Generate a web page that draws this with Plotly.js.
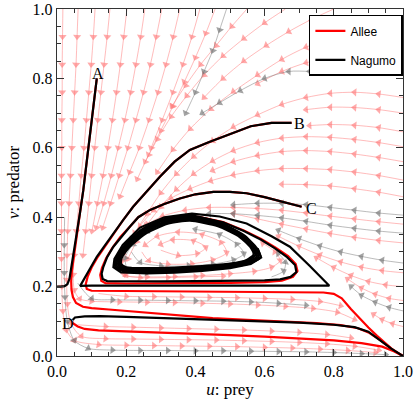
<!DOCTYPE html>
<html><head><meta charset="utf-8">
<script src="https://cdn.plot.ly/plotly-3.0.1.min.js"></script>
<style>html,body{margin:0;padding:0;background:#fff}#chart{width:415px;height:412px}</style>
</head><body><div id="chart"></div>
<script>
// ---- Trajectories, [u, v] pairs ----
const nagumoA = [[0.115,0.8],[0.108,0.74],[0.098,0.65],[0.087,0.56],[0.076,0.478],[0.066,0.41],[0.057,0.35],[0.048,0.29],[0.041,0.245],[0.036,0.222],[0.03,0.207],[0.022,0.2015],[0.01,0.2],[0,0.2]];
const nagumoB = [[0.678,0.672],[0.62,0.672],[0.56,0.662],[0.5,0.64],[0.44,0.617],[0.384,0.594],[0.34,0.56],[0.298,0.517],[0.258,0.472],[0.22,0.43],[0.19,0.39],[0.163,0.354],[0.138,0.318],[0.115,0.286],[0.097,0.255],[0.083,0.228],[0.073,0.21],[0.067,0.202],[0.1,0.2026],[0.3,0.2026],[0.5,0.2026],[0.7,0.2026],[0.787,0.2026],[0.73,0.26],[0.673,0.315],[0.62,0.345],[0.548,0.382],[0.47,0.402],[0.39,0.41],[0.31,0.4],[0.24,0.37],[0.19,0.32],[0.166,0.28],[0.163,0.256],[0.185,0.241],[0.26,0.238],[0.34,0.24],[0.42,0.245],[0.5,0.253],[0.56,0.265],[0.59,0.284],[0.58,0.31]];
const nagumoC = [[0.707,0.43],[0.67,0.44],[0.645,0.445],[0.6,0.458],[0.548,0.469],[0.5,0.473],[0.452,0.473],[0.4,0.466],[0.355,0.454],[0.31,0.438],[0.269,0.421],[0.235,0.4],[0.211,0.373],[0.185,0.343],[0.163,0.315],[0.145,0.285],[0.134,0.257],[0.129,0.237],[0.132,0.222],[0.145,0.216],[0.2,0.215],[0.3,0.215],[0.4,0.216],[0.5,0.217],[0.6,0.218],[0.645,0.221],[0.675,0.228],[0.692,0.242],[0.688,0.262],[0.665,0.285],[0.63,0.31],[0.59,0.335],[0.54,0.36],[0.48,0.385],[0.41,0.4],[0.34,0.397]];
const nagumoD = [[0.045,0.104],[0.052,0.111],[0.08,0.114],[0.124,0.115],[0.2,0.113],[0.3,0.11],[0.4,0.106],[0.5,0.103],[0.6,0.1],[0.7,0.096],[0.8,0.09],[0.86,0.083],[0.9,0.07],[0.934,0.046],[0.965,0.022],[1,0]];
const cycle1 = [[0.384,0.405],[0.31,0.395],[0.245,0.365],[0.198,0.322],[0.172,0.283],[0.168,0.258],[0.19,0.245],[0.26,0.242],[0.34,0.244],[0.42,0.248],[0.5,0.256],[0.56,0.268],[0.588,0.285],[0.578,0.31],[0.54,0.348],[0.47,0.385],[0.384,0.405]];
const cycle2 = [[0.384,0.4015],[0.312,0.3915],[0.2485,0.3625],[0.2015,0.321],[0.176,0.2835],[0.1725,0.26],[0.1925,0.248],[0.26,0.245],[0.34,0.247],[0.42,0.251],[0.5,0.259],[0.5565,0.2705],[0.583,0.2865],[0.574,0.31],[0.5375,0.3465],[0.469,0.3825],[0.384,0.4015]];
const cycle3 = [[0.384,0.398],[0.315,0.388],[0.252,0.36],[0.205,0.32],[0.18,0.284],[0.177,0.262],[0.195,0.251],[0.26,0.248],[0.34,0.25],[0.42,0.254],[0.5,0.262],[0.553,0.273],[0.578,0.288],[0.57,0.31],[0.535,0.345],[0.468,0.38],[0.384,0.398]];
const cycle4 = [[0.384,0.394],[0.3175,0.3845],[0.256,0.3575],[0.209,0.319],[0.184,0.2845],[0.181,0.264],[0.1975,0.2535],[0.26,0.2505],[0.34,0.2525],[0.42,0.2565],[0.5,0.264],[0.5505,0.275],[0.573,0.29],[0.565,0.311],[0.5315,0.344],[0.4665,0.377],[0.384,0.394]];
const cycle5 = [[0.384,0.39],[0.32,0.381],[0.26,0.355],[0.213,0.318],[0.188,0.285],[0.185,0.266],[0.2,0.256],[0.26,0.253],[0.34,0.255],[0.42,0.259],[0.5,0.266],[0.548,0.277],[0.568,0.292],[0.56,0.312],[0.528,0.343],[0.465,0.374],[0.384,0.39]];

const alleeA = [[0.115,0.8],[0.108,0.74],[0.098,0.65],[0.087,0.56],[0.076,0.478],[0.066,0.41],[0.057,0.35],[0.048,0.29],[0.043,0.245],[0.041,0.215],[0.042,0.19],[0.046,0.17],[0.055,0.153],[0.075,0.142],[0.1,0.138],[0.15,0.134],[0.25,0.125],[0.35,0.117],[0.45,0.109],[0.55,0.104],[0.65,0.1],[0.75,0.095],[0.82,0.089],[0.87,0.08],[0.9,0.068],[0.934,0.046],[0.965,0.022],[1,0]];
const alleeB = [[0.678,0.672],[0.62,0.672],[0.56,0.662],[0.5,0.64],[0.44,0.617],[0.384,0.594],[0.34,0.56],[0.298,0.517],[0.258,0.472],[0.22,0.43],[0.19,0.39],[0.165,0.354],[0.14,0.318],[0.118,0.286],[0.1,0.255],[0.089,0.23],[0.083,0.207],[0.086,0.193],[0.1,0.188],[0.2,0.187],[0.3,0.187],[0.4,0.186],[0.5,0.185],[0.6,0.185],[0.7,0.184],[0.77,0.183],[0.8,0.179],[0.823,0.166],[0.85,0.135],[0.875,0.107],[0.9,0.082],[0.925,0.058],[0.95,0.035],[0.975,0.014],[1,0]];
const alleeC = [[0.707,0.43],[0.67,0.44],[0.645,0.445],[0.6,0.458],[0.548,0.469],[0.5,0.473],[0.452,0.473],[0.4,0.466],[0.355,0.454],[0.31,0.438],[0.269,0.421],[0.235,0.4],[0.211,0.373],[0.183,0.343],[0.16,0.312],[0.142,0.282],[0.13,0.254],[0.125,0.233],[0.128,0.217],[0.14,0.21],[0.2,0.209],[0.3,0.209],[0.4,0.21],[0.5,0.211],[0.6,0.213],[0.65,0.217],[0.682,0.228],[0.695,0.245],[0.69,0.265],[0.668,0.288],[0.632,0.312],[0.59,0.337],[0.54,0.362],[0.48,0.386],[0.41,0.401],[0.34,0.398]];
const alleeD = [[0.045,0.095],[0.06,0.085],[0.08,0.078],[0.12,0.074],[0.2,0.071],[0.3,0.068],[0.4,0.064],[0.5,0.06],[0.6,0.056],[0.7,0.051],[0.8,0.045],[0.88,0.037],[0.94,0.027],[0.975,0.013],[1,0]];

// ---- Stream lines, [u, v] pairs, in flow direction ----
const redStreams = [
 [[0.017,1],[0.016,0.92],[0.015,0.84],[0.015,0.76],[0.014,0.68],[0.014,0.6],[0.013,0.52],[0.013,0.44],[0.013,0.36],[0.013,0.28],[0.014,0.2],[0.017,0.13],[0.027,0.075],[0.05,0.045],[0.12,0.033],[0.2,0.031],[0.28,0.03],[0.36,0.029],[0.44,0.028],[0.52,0.027],[0.6,0.025],[0.68,0.023],[0.76,0.02],[0.84,0.016],[0.92,0.01]],
 [[0.061,1],[0.058,0.92],[0.055,0.84],[0.051,0.76],[0.047,0.68],[0.043,0.6],[0.039,0.52],[0.035,0.44],[0.031,0.36],[0.029,0.29],[0.028,0.22],[0.03,0.15],[0.04,0.095],[0.07,0.057],[0.14,0.05],[0.22,0.049],[0.3,0.048],[0.38,0.047],[0.46,0.046],[0.54,0.044],[0.62,0.042],[0.7,0.039],[0.78,0.035],[0.86,0.028],[0.93,0.017]],
 [[0.11,1],[0.105,0.92],[0.099,0.84],[0.092,0.76],[0.085,0.68],[0.078,0.6],[0.07,0.52],[0.063,0.44],[0.056,0.36],[0.05,0.29],[0.047,0.235],[0.05,0.19],[0.065,0.165],[0.1,0.158],[0.18,0.156],[0.26,0.155],[0.34,0.154],[0.42,0.152],[0.5,0.15],[0.58,0.147],[0.66,0.143],[0.74,0.137],[0.81,0.126],[0.86,0.105]],
 [[0.153,1],[0.145,0.92],[0.136,0.84],[0.127,0.76],[0.118,0.68],[0.109,0.6],[0.1,0.52],[0.092,0.44],[0.083,0.36],[0.075,0.29]],
 [[0.202,1],[0.193,0.92],[0.183,0.84],[0.172,0.76],[0.16,0.68],[0.147,0.6],[0.133,0.52],[0.117,0.44],[0.101,0.36]],
 [[0.254,1],[0.242,0.92],[0.228,0.84],[0.213,0.76],[0.196,0.68],[0.177,0.6],[0.157,0.52],[0.135,0.44],[0.114,0.37]],
 [[0.303,1],[0.287,0.92],[0.27,0.84],[0.25,0.76],[0.228,0.68],[0.205,0.6],[0.18,0.52],[0.155,0.44],[0.132,0.37]],
 [[0.355,1],[0.336,0.92],[0.315,0.84],[0.292,0.76],[0.266,0.68],[0.238,0.6],[0.21,0.53],[0.182,0.46]],
 [[0.413,1],[0.39,0.92],[0.364,0.84],[0.335,0.76],[0.304,0.68],[0.272,0.6]],
 [[0.457,1],[0.43,0.93],[0.4,0.86],[0.368,0.79],[0.335,0.72],[0.3,0.65],[0.265,0.58],[0.232,0.51]],
 [[0.549,1],[0.505,0.95],[0.46,0.895],[0.415,0.84],[0.372,0.78],[0.332,0.72]],
 [[0.66,1],[0.6,0.96],[0.54,0.915],[0.48,0.865],[0.425,0.81],[0.375,0.75],[0.33,0.69],[0.29,0.625],[0.255,0.56]],
 [[0.8,1],[0.735,0.97],[0.67,0.935],[0.605,0.895],[0.54,0.85],[0.48,0.8],[0.425,0.745]],
 [[1,0.93],[0.93,0.935],[0.86,0.93],[0.79,0.915],[0.72,0.89],[0.65,0.855],[0.58,0.81],[0.51,0.762],[0.445,0.712],[0.385,0.655],[0.335,0.595],[0.29,0.53]],
 [[1,0.86],[0.93,0.866],[0.86,0.866],[0.79,0.86],[0.72,0.845],[0.65,0.82],[0.58,0.785]],
 [[1,0.745],[0.93,0.755],[0.86,0.76],[0.79,0.757],[0.72,0.745],[0.65,0.725],[0.58,0.695],[0.51,0.66],[0.45,0.62],[0.395,0.575],[0.345,0.525],[0.3,0.47],[0.26,0.41],[0.225,0.355]],
 [[1,0.70],[0.93,0.71],[0.86,0.716],[0.79,0.717],[0.72,0.71]],
 [[1,0.646],[0.93,0.658],[0.86,0.665],[0.79,0.667],[0.73,0.664]],
 [[1,0.603],[0.93,0.615],[0.86,0.624],[0.79,0.63],[0.72,0.632],[0.65,0.628],[0.58,0.615],[0.51,0.592],[0.45,0.562],[0.395,0.525],[0.345,0.48],[0.3,0.43],[0.262,0.38],[0.23,0.33],[0.205,0.28]],
 [[1,0.56],[0.93,0.572],[0.86,0.582],[0.79,0.589],[0.72,0.592],[0.65,0.589],[0.58,0.578],[0.51,0.56],[0.45,0.535]],
 [[1,0.507],[0.93,0.52],[0.86,0.53],[0.79,0.537],[0.72,0.54],[0.65,0.54],[0.58,0.534],[0.51,0.522],[0.445,0.505],[0.385,0.482],[0.33,0.455],[0.28,0.42],[0.24,0.375],[0.21,0.325],[0.19,0.275],[0.195,0.235],[0.24,0.226],[0.32,0.226],[0.4,0.228],[0.48,0.23]],
 [[1,0.459],[0.93,0.472],[0.86,0.482],[0.79,0.49],[0.72,0.494],[0.65,0.495]],
 [[1,0.38],[0.93,0.387],[0.86,0.395],[0.79,0.403],[0.72,0.412],[0.65,0.42],[0.58,0.425],[0.51,0.428],[0.44,0.428],[0.37,0.42],[0.305,0.403],[0.255,0.375],[0.215,0.337],[0.19,0.295],[0.18,0.258],[0.2,0.232],[0.26,0.228],[0.34,0.229],[0.42,0.232],[0.5,0.237],[0.57,0.244],[0.62,0.256],[0.645,0.275],[0.63,0.3],[0.595,0.325]],
 [[1,0.326],[0.93,0.333],[0.86,0.342],[0.79,0.353],[0.72,0.366],[0.65,0.38],[0.58,0.395],[0.51,0.41]],
 [[1,0.24],[0.94,0.246],[0.88,0.256],[0.82,0.271],[0.76,0.291],[0.7,0.316],[0.64,0.345]],
 [[1,0.2],[0.95,0.205],[0.9,0.215],[0.85,0.232],[0.8,0.255],[0.75,0.283]],
 [[1,0.16],[0.96,0.166],[0.92,0.178],[0.88,0.196],[0.84,0.222]],
 [[1,0.085],[0.97,0.093],[0.94,0.105],[0.915,0.12]],
 [[0.06,0.09],[0.14,0.085],[0.22,0.083],[0.3,0.081],[0.38,0.079],[0.46,0.077],[0.54,0.075],[0.62,0.072],[0.7,0.068],[0.78,0.062],[0.85,0.052]],
 [[0.12,0.18],[0.2,0.172],[0.28,0.171],[0.36,0.17],[0.44,0.169],[0.52,0.168],[0.6,0.166],[0.68,0.163],[0.76,0.157],[0.82,0.145]],
 [[0.245,0.3],[0.265,0.275],[0.32,0.265],[0.39,0.266],[0.45,0.277],[0.49,0.298],[0.475,0.327],[0.42,0.35],[0.35,0.357],[0.29,0.345],[0.255,0.32]],
 [[0.3,0.305],[0.35,0.29],[0.405,0.295],[0.43,0.313],[0.395,0.332],[0.335,0.335],[0.3,0.322]]
];
const greyStreams = [
 [[0.022,0.4],[0.021,0.32],[0.021,0.24],[0.023,0.17],[0.03,0.1],[0.05,0.045],[0.09,0.022],[0.16,0.017],[0.24,0.016],[0.32,0.016],[0.4,0.015],[0.48,0.015],[0.56,0.014],[0.64,0.013],[0.72,0.012],[0.8,0.01],[0.88,0.007],[0.95,0.004]],
 [[0.49,1],[0.47,0.94],[0.45,0.88],[0.425,0.82],[0.4,0.76],[0.372,0.7]],
 [[0.8,0.815],[0.73,0.82],[0.67,0.82],[0.6,0.8],[0.53,0.765],[0.47,0.73],[0.42,0.7]],
 [[0.06,0.21],[0.1,0.166],[0.16,0.162],[0.24,0.161],[0.32,0.16],[0.4,0.159],[0.48,0.158],[0.56,0.156],[0.64,0.152],[0.72,0.146]],
 [[1,0.406],[0.93,0.412],[0.86,0.42],[0.79,0.428],[0.72,0.436],[0.65,0.44],[0.58,0.44],[0.51,0.436]],
 [[1,0.354],[0.93,0.36],[0.86,0.368],[0.79,0.377],[0.72,0.388],[0.65,0.398],[0.58,0.405],[0.51,0.41],[0.44,0.41],[0.37,0.402],[0.31,0.387],[0.26,0.36],[0.22,0.322],[0.197,0.283],[0.205,0.25],[0.26,0.24]],
 [[1,0.268],[0.94,0.276],[0.88,0.287],[0.82,0.3],[0.76,0.317],[0.7,0.338],[0.64,0.362]],
 [[1,0.13],[0.96,0.14],[0.92,0.155],[0.88,0.175],[0.85,0.2]],
 [[0.215,0.3],[0.24,0.27],[0.3,0.26],[0.38,0.26],[0.45,0.265],[0.51,0.277],[0.54,0.295],[0.52,0.322],[0.47,0.35],[0.4,0.365]],
 [[0.62,0.228],[0.655,0.245],[0.66,0.27],[0.64,0.295]]
];

// ---- Build traces ----
const traces = [];
function streamTrace(pts, lineCol, arrowCol){
  return {
    x: pts.map(p=>p[0]), y: pts.map(p=>p[1]),
    mode: 'lines+markers', showlegend: false, hoverinfo: 'skip',
    line: {color: lineCol, width: 1, shape: 'spline', smoothing: 0.8},
    marker: {symbol: 'triangle-up', angleref: 'previous', color: arrowCol,
             size: pts.map((p,i)=> i===0 ? 0 : 7), line: {width: 0}}
  };
}
redStreams.forEach(s => traces.push(streamTrace(s, 'rgba(255,120,120,0.5)', 'rgba(255,120,120,0.9)')));
greyStreams.forEach(s => traces.push(streamTrace(s, 'rgba(120,120,120,0.5)', 'rgba(110,110,110,0.9)')));

function traj(pts, color, name, show, width, shape){
  return {x: pts.map(p=>p[0]), y: pts.map(p=>p[1]), mode: 'lines', name: name,
          showlegend: show, legendgroup: name, hoverinfo: 'skip',
          line: {color: color, width: width, shape: shape, smoothing: 0.6}};
}
[alleeA, alleeB, alleeC, alleeD].forEach((t,i)=> traces.push(traj(t, '#ff0000', 'Allee', i===0, 2.2, 'linear')));
[nagumoA, nagumoB, nagumoC, nagumoD].forEach((t,i)=> traces.push(traj(t, '#000000', 'Nagumo', i===0, 2.2, 'linear')));
[cycle1, cycle2, cycle3, cycle4, cycle5].forEach(t => traces.push(traj(t, '#000000', 'Nagumo', false, 2.2, 'spline')));

const serif = 'Liberation Serif, Times New Roman, serif';
const axisCommon = {
  range: [0, 1], dtick: 0.2, tick0: 0, tickformat: '.1f',
  ticks: 'inside', ticklen: 7, tickwidth: 1, tickcolor: '#333',
  showline: true, linecolor: '#333', linewidth: 1.3, mirror: 'ticks',
  showgrid: false, zeroline: false,
  minor: {dtick: 0.05, ticks: 'inside', ticklen: 4, tickcolor: '#333', showgrid: false},
  tickfont: {family: serif, size: 16, color: '#000'}
};
const layout = {
  width: 415, height: 412,
  margin: {l: 57, r: 12, t: 9, b: 56},
  paper_bgcolor: '#fff', plot_bgcolor: '#fff',
  xaxis: Object.assign({}, axisCommon, {title: {text: '<i>u</i>: prey', font: {family: serif, size: 17, color: '#000'}, standoff: 4}}),
  yaxis: Object.assign({}, axisCommon, {title: {text: '<i>v</i>: predator', font: {family: serif, size: 17, color: '#000'}, standoff: 8}}),
  legend: {x: 0.728, y: 0.983, xanchor: 'left', yanchor: 'top', bgcolor: '#fff',
           bordercolor: '#000', borderwidth: 1.5,
           font: {family: 'Liberation Sans, Arial, sans-serif', size: 12, color: '#000'}},
  annotations: [
    {x: 0.118, y: 0.815, text: 'A'},
    {x: 0.7, y: 0.67, text: 'B'},
    {x: 0.735, y: 0.425, text: 'C'},
    {x: 0.033, y: 0.095, text: 'D'}
  ].map(a => Object.assign(a, {xref: 'x', yref: 'y', showarrow: false,
        font: {family: serif, size: 16, color: '#000'}}))
};
Plotly.newPlot('chart', traces, layout, {staticPlot: true});
</script></body></html>
